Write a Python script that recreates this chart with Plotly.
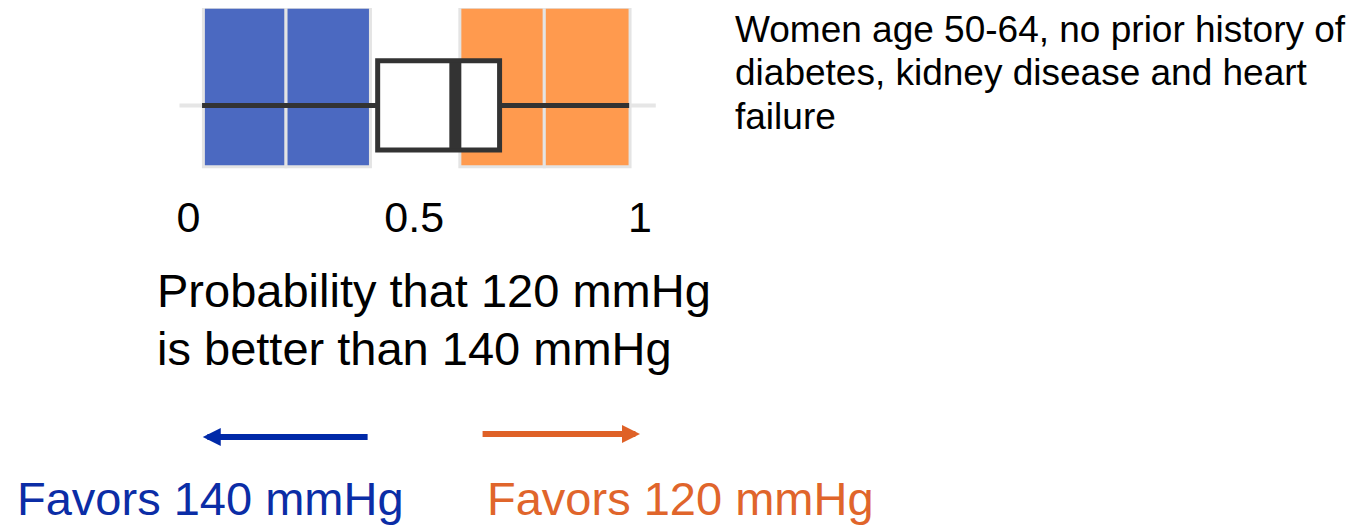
import plotly.graph_objects as go

# ---------------- data ----------------
bar_starts = [0.033, 0.216, 0.601, 0.788]
bar_lengths = [0.183, 0.187, 0.187, 0.190]
bar_colors = ["#4B69C1", "#4B69C1", "#FF9A4E", "#FF9A4E"]

box_q1 = [0.419]
box_median = [0.591]
box_q3 = [0.689]
box_lowerfence = [0.030]
box_upperfence = [0.976]

tick_vals = [0, 0.5, 1]
tick_text = ["0", "0.5", "1"]

baseline_x = [-0.02, 1.035]

# ---------------- layout constants ----------------
OFF = 8                      # page body margin
W, H = 1366 - OFF, 526 - OFF
FONT = "Liberation Sans, Arial, sans-serif"
BOX_Y = -0.116
BOX_W = 0.56
PX_PER_X = 451.5
X0_REF = 188.5               # screen x of value 0
PX_PER_Y = 159.4
Y0_REF = 87.0                # screen y of bar centre


def px(x):
    return (x - OFF) / W


def py(y):
    return 1 - (y - OFF) / H


fig = go.Figure()

fig.add_trace(go.Bar(
    orientation="h", y=[0] * len(bar_starts), x=bar_lengths, base=bar_starts,
    width=1, marker=dict(color=bar_colors, line=dict(color="#e4e4e4", width=3)),
    hoverinfo="skip", showlegend=False))

fig.add_trace(go.Box(
    orientation="h", y=[BOX_Y], q1=box_q1, median=box_median, q3=box_q3,
    lowerfence=box_lowerfence, upperfence=box_upperfence,
    width=BOX_W, whiskerwidth=0, fillcolor="white",
    line=dict(color="#333333", width=5), boxpoints=False,
    hoverinfo="skip", showlegend=False))

fig.add_trace(go.Scatter(
    x=[box_median[0], box_median[0]],
    y=[BOX_Y - BOX_W / 2 + 0.01, BOX_Y + BOX_W / 2 - 0.01],
    mode="lines", line=dict(color="#333333", width=12),
    hoverinfo="skip", showlegend=False))

shapes = [dict(type="line", xref="x", yref="y", layer="below",
               x0=baseline_x[0], x1=baseline_x[1], y0=BOX_Y, y1=BOX_Y,
               line=dict(color="#e6e6e6", width=4))]

annotations = []
for txt, yc in [("Probability that 120 mmHg", 290), ("is better than 140 mmHg", 348)]:
    annotations.append(dict(text=txt, xref="paper", yref="paper", x=px(155), y=py(yc),
                            xanchor="left", yanchor="middle", showarrow=False,
                            font=dict(family=FONT, size=47, color="black")))
for txt, yc in [("Women age 50-64, no prior history of", 29),
                ("diabetes, kidney disease and heart", 73),
                ("failure", 116)]:
    annotations.append(dict(text=txt, xref="paper", yref="paper", x=px(733), y=py(yc),
                            xanchor="left", yanchor="middle", showarrow=False,
                            font=dict(family=FONT, size=37, color="black")))
annotations.append(dict(text="Favors 140 mmHg", xref="paper", yref="paper", x=px(15), y=py(498),
                        xanchor="left", yanchor="middle", showarrow=False,
                        font=dict(family=FONT, size=47, color="#0B2DA6")))
annotations.append(dict(text="Favors 120 mmHg", xref="paper", yref="paper", x=px(485), y=py(498),
                        xanchor="left", yanchor="middle", showarrow=False,
                        font=dict(family=FONT, size=47, color="#E0652B")))
annotations.append(dict(text="", xref="x", yref="paper", x=0.0315, y=py(437),
                        axref="x", ayref="pixel", ax=0.400, ay=0,
                        showarrow=True, arrowhead=2, arrowsize=0.6, arrowwidth=6,
                        arrowcolor="#0029A8"))
annotations.append(dict(text="", xref="x", yref="paper", x=1.0, y=py(434),
                        axref="x", ayref="pixel", ax=0.648, ay=0,
                        showarrow=True, arrowhead=2, arrowsize=0.6, arrowwidth=6,
                        arrowcolor="#DF6127"))

x_range = [-0.05, 1.05]
x_left_ref = X0_REF + x_range[0] * PX_PER_X
x_right_ref = X0_REF + x_range[1] * PX_PER_X
y_top = (Y0_REF - OFF) / PX_PER_Y          # data value at figure top
y_bot_ref = 186.0
y_bot = -(y_bot_ref - Y0_REF) / PX_PER_Y

fig.update_layout(
    width=W, height=H, margin=dict(l=0, r=0, t=0, b=0),
    paper_bgcolor="white", plot_bgcolor="white",
    barmode="overlay", showlegend=False,
    annotations=annotations, shapes=shapes,
    xaxis=dict(domain=[px(x_left_ref), px(x_right_ref)], range=x_range,
               tickvals=tick_vals, ticktext=tick_text, showgrid=False,
               zeroline=False, showline=False, ticks="",
               tickfont=dict(family=FONT, size=43, color="black"),
               ticklabelstandoff=2),
    yaxis=dict(domain=[py(y_bot_ref), 1.0], range=[y_bot, y_top],
               visible=False, showgrid=False, zeroline=False),
)

fig.write_html("out.html")
